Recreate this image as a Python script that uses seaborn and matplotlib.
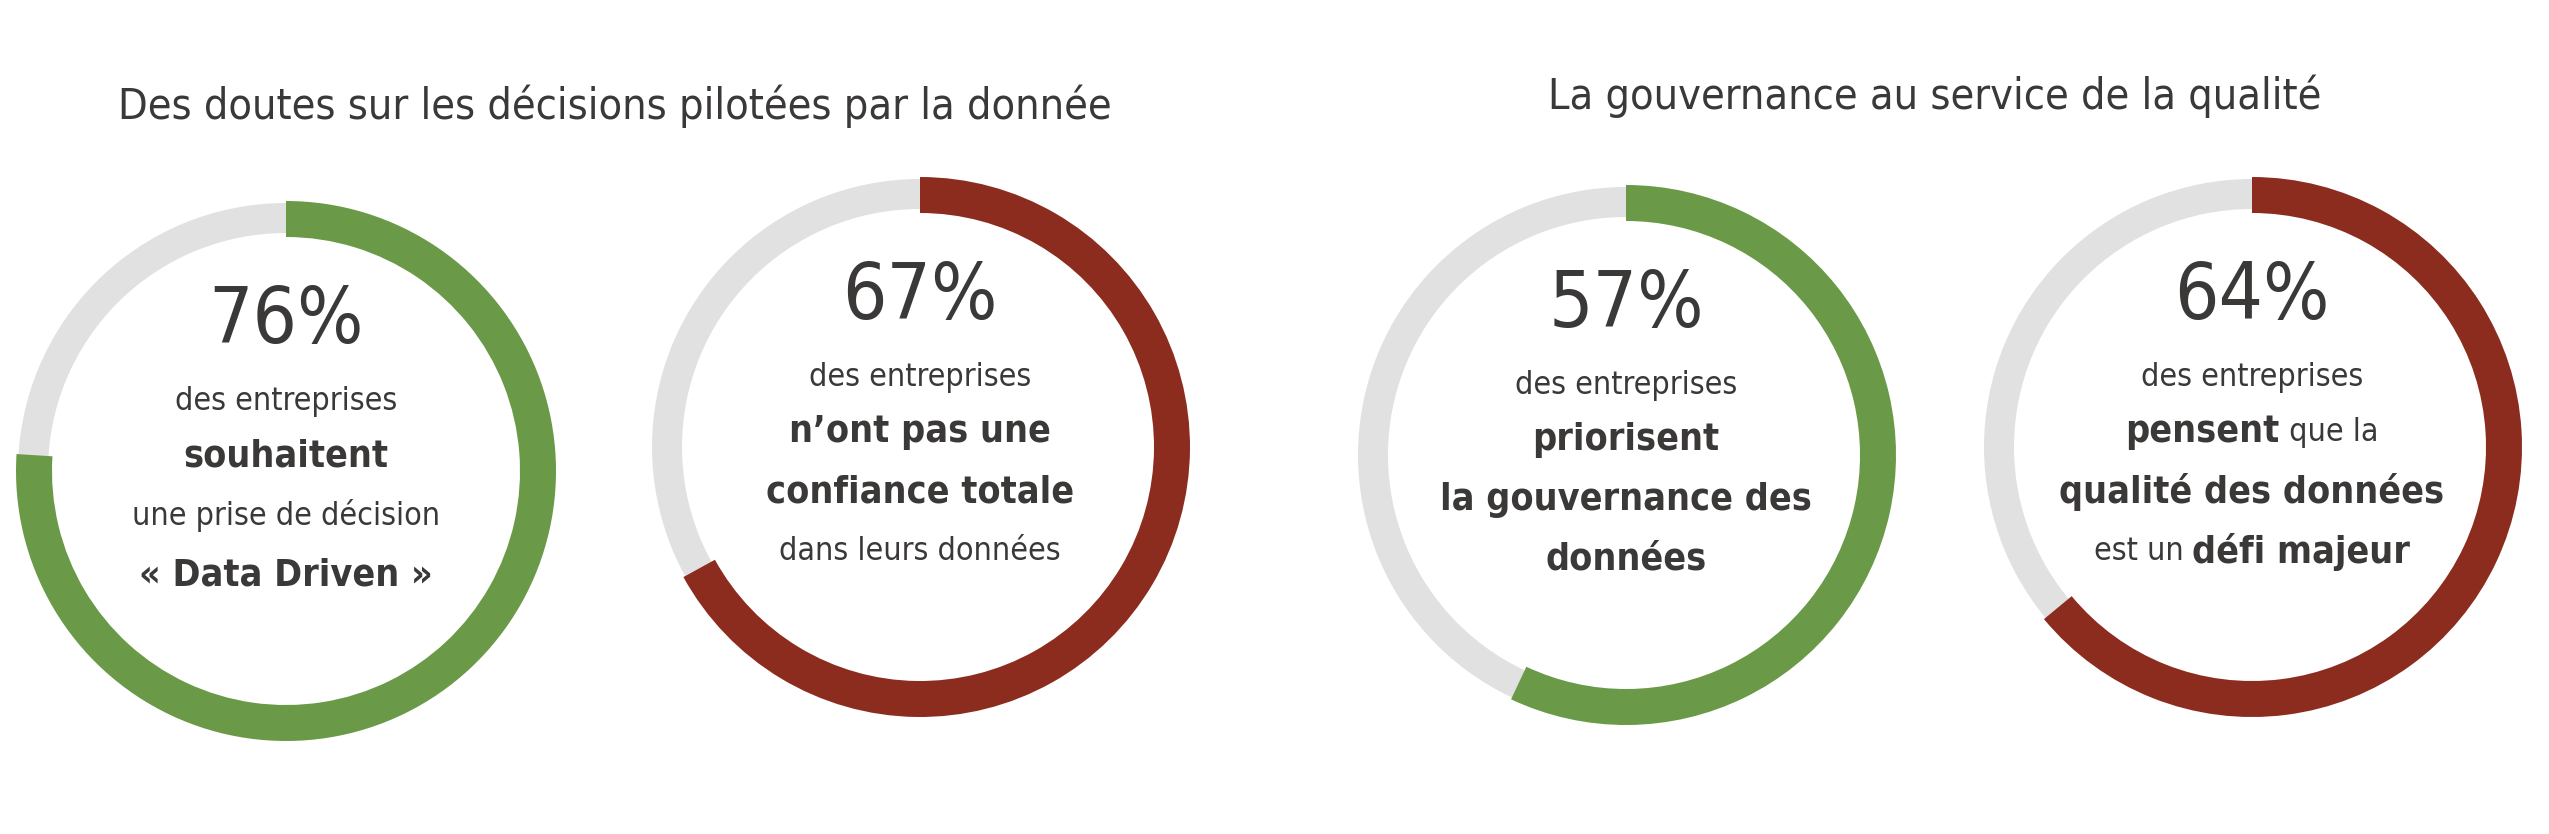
import matplotlib
matplotlib.use("Agg")
import matplotlib.pyplot as plt
import seaborn as sns
from matplotlib import font_manager

sns.set_theme(style="white")

W, H = 2549, 834
names = [f.name for f in font_manager.fontManager.ttflist]
FONT = "Liberation Sans Narrow" if "Liberation Sans Narrow" in names else "DejaVu Sans"
STRETCH = "condensed"
TXT = "#3b3838"
GREEN = "#6a9a48"
RED = "#8b2c1e"
GREY = "#e1e1e1"

# data
titles = ["Des doutes sur les décisions pilotées par la donnée",
          "La gouvernance au service de la qualité"]
percents = [76, 67, 57, 64]
colors = [GREEN, RED, GREEN, RED]
# each label line is a list of (text, bold) segments
labels = [
    [[("des entreprises", False)], [("souhaitent", True)],
     [("une prise de décision", False)], [("« Data Driven »", True)]],
    [[("des entreprises", False)], [("n’ont pas une", True)],
     [("confiance totale", True)], [("dans leurs données", False)]],
    [[("des entreprises", False)], [("priorisent", True)],
     [("la gouvernance des", True)], [("données", True)]],
    [[("des entreprises", False)], [("pensent", True), (" que la", False)],
     [("qualité des données", True)], [("est un ", False), ("défi majeur", True)]],
]

# layout (pixels)
centers = [(286, 471), (920, 447), (1626, 455), (2252, 447)]
radius = 270
title_pos = [(615, 106), (1935, 96)]

fig = plt.figure(figsize=(W / 100, H / 100), dpi=100)
ax = fig.add_axes([0, 0, 1, 1])

for (tx, ty), t in zip(title_pos, titles):
    ax.text(tx, H - ty, t, ha="center", va="center", fontsize=31, color=TXT,
            family=FONT, fontstretch=STRETCH)

renderer = fig.canvas.get_renderer()


def mixed_line(x, y, segs, size):
    arts = []
    for s, b in segs:
        a = ax.text(0, y, s, ha="left", va="center", fontsize=size + (4 if b else 0),
                    color=TXT, family=FONT, fontstretch=STRETCH,
                    fontweight="bold" if b else "normal")
        arts.append(a)
    widths = [a.get_window_extent(renderer).width for a in arts]
    x0 = x - sum(widths) / 2
    for a, w in zip(arts, widths):
        a.set_x(x0)
        x0 += w


for (cx, cy), p, c, lab in zip(centers, percents, colors, labels):
    cy = H - cy
    ax.pie([1], colors=[GREY], center=(cx, cy), radius=radius - 2,
           wedgeprops=dict(width=30, linewidth=0), frame=True)
    ax.pie([p, 100 - p], colors=[c, "none"], center=(cx, cy), radius=radius,
           startangle=90, counterclock=False,
           wedgeprops=dict(width=36, linewidth=0), frame=True)
    ax.text(cx, cy + 150, f"{p}%", ha="center", va="center", fontsize=56,
            color=TXT, family=FONT, fontstretch=STRETCH)
    ys = [cy + 70, cy + 15, cy - 45, cy - 105]
    for yy, segs in zip(ys, lab):
        mixed_line(cx, yy, segs, 23)

ax.set_xlim(0, W)
ax.set_ylim(0, H)
ax.set_aspect("equal")
ax.axis("off")
fig.savefig("out.png", dpi=100, facecolor="white")
